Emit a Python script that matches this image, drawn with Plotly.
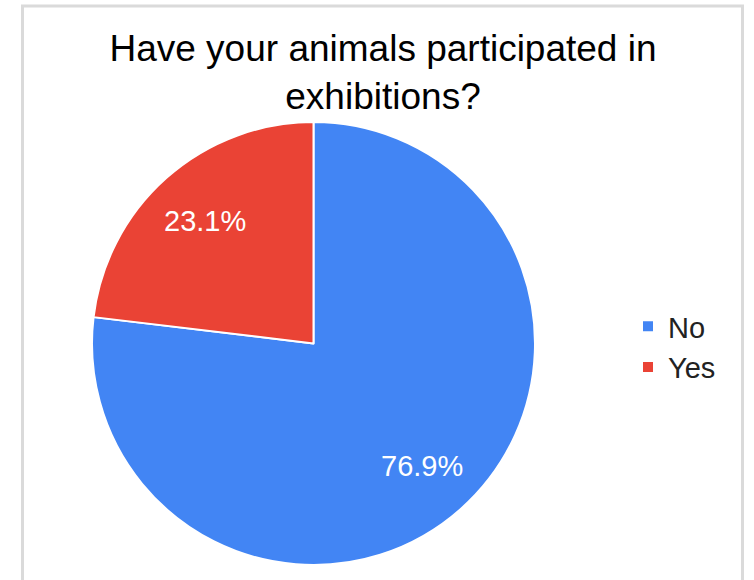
import math
import plotly.graph_objects as go

# Survey answers and their shares (percent)
labels = ["No", "Yes"]
shares = [76.9, 23.1]
colors = ["#4285F4", "#EA4335"]
title_text = "Have your animals participated in<br>exhibitions?"

W, H = 754, 580
FONT = "Liberation Sans, Arial, sans-serif"

# pie placement in pixels
CX, CY, R = 313.5, 343.5, 221.5
dom_x = [(CX - R) / W, (CX + R) / W]
dom_y = [(H - CY - R) / H, (H - CY + R) / H]

fig = go.Figure(
    go.Pie(
        labels=labels,
        values=shares,
        sort=False,
        direction="clockwise",
        rotation=0,
        marker=dict(colors=colors, line=dict(color="#FFFFFF", width=2)),
        textinfo="none",
        hoverinfo="label+percent",
        domain=dict(x=dom_x, y=dom_y),
    )
)

# percentage labels placed along each slice's middle angle
total = sum(shares)
start = 0.0
for lab, val in zip(labels, shares):
    mid = (start + val / 2) / total * 2 * math.pi  # clockwise from 12 o'clock
    start += val
    px = CX + 0.74 * R * math.sin(mid)
    py = CY - 0.74 * R * math.cos(mid)
    fig.add_annotation(
        x=px / W, y=1 - py / H, xref="paper", yref="paper",
        text=f"{val / total * 100:.1f}%", showarrow=False,
        xanchor="center", yanchor="middle",
        font=dict(family=FONT, size=29, color="#FFFFFF"),
    )

# light grey frame around the chart area (open at the bottom edge of the view)
fig.add_shape(
    type="rect", xref="paper", yref="paper",
    x0=22.5 / W, x1=742.5 / W, y0=-0.05, y1=(H - 6) / H,
    line=dict(color="#DADADA", width=3), fillcolor="rgba(0,0,0,0)", layer="below",
)

fig.update_layout(
    width=W, height=H,
    margin=dict(l=0, r=0, t=0, b=0),
    paper_bgcolor="#FFFFFF",
    plot_bgcolor="#FFFFFF",
    title=dict(
        text=title_text,
        x=383 / W, xanchor="center",
        y=1 - 61 / H, yanchor="middle",
        yref="container",
        font=dict(family=FONT, size=37, color="#000000"),
    ),
    legend=dict(
        x=628 / W, xanchor="left",
        y=1 - 301 / H, yanchor="top",
        font=dict(family=FONT, size=29, color="#222222"),
        bgcolor="rgba(0,0,0,0)",
    ),
    showlegend=True,
)

fig.write_html("out.html")
